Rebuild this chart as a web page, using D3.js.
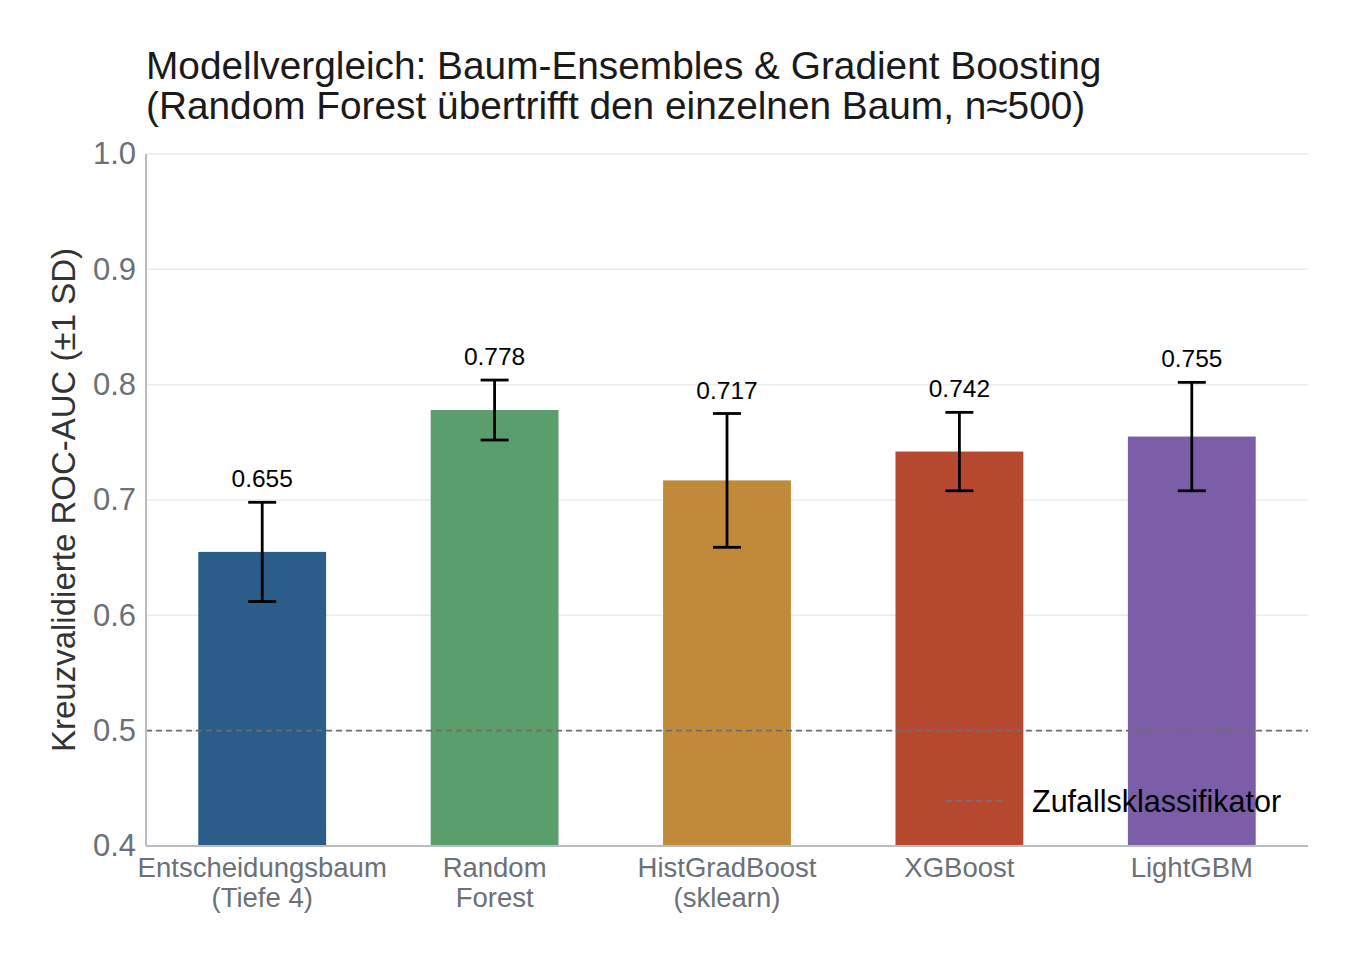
<!DOCTYPE html>
<html>
<head>
<meta charset="utf-8">
<script src="https://cdn.jsdelivr.net/npm/d3@7"></script>
<style>
  body { margin: 0; background: #fff; }
  svg { font-family: "Liberation Sans", Arial, sans-serif; }
</style>
</head>
<body>
<svg width="1357" height="962"></svg>
<script>
// data
const models = ["Entscheidungsbaum\n(Tiefe 4)", "Random\nForest", "HistGradBoost\n(sklearn)", "XGBoost", "LightGBM"];
const aucMean = [0.655, 0.778, 0.717, 0.742, 0.755];
const aucSd = [0.043, 0.026, 0.058, 0.034, 0.047];
const barColors = ["#2a5d8a", "#5a9e6b", "#c08a3a", "#b5482f", "#7b5ea7"];
const yTicks = [0.4, 0.5, 0.6, 0.7, 0.8, 0.9, 1.0];
const chanceLevel = 0.5;

const svg = d3.select("svg");
const margin = {top: 154, right: 49, bottom: 116, left: 146};
const width = +svg.attr("width") - margin.left - margin.right;
const height = +svg.attr("height") - margin.top - margin.bottom;

const g = svg.append("g").attr("transform", `translate(${margin.left},${margin.top})`);

const x = d3.scaleBand().domain(models).range([0, width]).paddingInner(0.45).paddingOuter(0.225);
const y = d3.scaleLinear().domain([0.4, 1.0]).range([height, 0]);

// grid
g.append("g")
  .selectAll("line")
  .data(yTicks.slice(1))
  .enter().append("line")
  .attr("x1", 0).attr("x2", width)
  .attr("y1", d => y(d)).attr("y2", d => y(d))
  .attr("stroke", "#ebebeb").attr("stroke-width", 1.5);

// bars
g.append("g")
  .selectAll("rect")
  .data(models)
  .enter().append("rect")
  .attr("x", d => x(d))
  .attr("width", x.bandwidth())
  .attr("y", (d, i) => y(aucMean[i]))
  .attr("height", (d, i) => y(0.4) - y(aucMean[i]))
  .attr("fill", (d, i) => barColors[i]);

// chance line
g.append("line")
  .attr("x1", 0).attr("x2", width)
  .attr("y1", y(chanceLevel)).attr("y2", y(chanceLevel))
  .attr("stroke", "#6e6e6e").attr("stroke-width", 1.6)
  .attr("stroke-dasharray", "6,4");

// error bars
const errs = g.append("g").attr("stroke", "#000").attr("stroke-width", 2.8);
models.forEach((m, i) => {
  const cx = x(m) + x.bandwidth() / 2;
  const top = y(aucMean[i] + aucSd[i]);
  const bot = y(aucMean[i] - aucSd[i]);
  errs.append("line").attr("x1", cx).attr("x2", cx).attr("y1", top).attr("y2", bot);
  errs.append("line").attr("x1", cx - 14).attr("x2", cx + 14).attr("y1", top).attr("y2", top);
  errs.append("line").attr("x1", cx - 14).attr("x2", cx + 14).attr("y1", bot).attr("y2", bot);
  g.append("text")
    .attr("x", cx).attr("y", top - 15)
    .attr("text-anchor", "middle")
    .attr("font-size", 24.5).attr("fill", "#000")
    .text(aucMean[i].toFixed(3));
});

// axes spines
g.append("line").attr("x1", 0).attr("x2", 0).attr("y1", 0).attr("y2", height)
  .attr("stroke", "#b9bcc2").attr("stroke-width", 2);
g.append("line").attr("x1", 0).attr("x2", width).attr("y1", height).attr("y2", height)
  .attr("stroke", "#b9bcc2").attr("stroke-width", 2);

// y tick labels
const yAxis = g.append("g").call(d3.axisLeft(y).tickValues(yTicks).tickSize(0).tickPadding(10).tickFormat(d3.format(".1f")));
yAxis.select(".domain").remove();
yAxis.selectAll("text").attr("font-size", 31).attr("fill", "#6b7079").attr("font-family", "Liberation Sans, Arial, sans-serif");

// x tick labels
const xAxis = g.append("g").attr("transform", `translate(0,${height})`)
  .call(d3.axisBottom(x).tickSize(0).tickFormat(""));
xAxis.select(".domain").remove();
xAxis.selectAll(".tick").each(function(d) {
  const t = d3.select(this).append("text")
    .attr("text-anchor", "middle").attr("font-size", 27.5).attr("fill", "#6b7079")
    .attr("font-family", "Liberation Sans, Arial, sans-serif");
  d.split("\n").forEach((line, k) => {
    t.append("tspan").attr("x", 0).attr("y", 31 + k * 30).text(line);
  });
});

// y label
svg.append("text")
  .attr("transform", `translate(75,${margin.top + height / 2}) rotate(-90)`)
  .attr("text-anchor", "middle").attr("font-size", 33).attr("fill", "#333")
  .text("Kreuzvalidierte ROC-AUC (±1 SD)");

// title
const title = svg.append("text").attr("x", 146).attr("font-size", 38.8).attr("fill", "#1a1a1a");
title.append("tspan").attr("x", 146).attr("y", 79).text("Modellvergleich: Baum-Ensembles & Gradient Boosting");
title.append("tspan").attr("x", 146).attr("y", 119).text("(Random Forest übertrifft den einzelnen Baum, n≈500)");

// legend
const leg = svg.append("g").attr("transform", "translate(946,801)");
leg.append("line").attr("x1", 0).attr("x2", 59).attr("y1", 0).attr("y2", 0)
  .attr("stroke", "#6b7785").attr("stroke-width", 1.6).attr("stroke-dasharray", "6,4");
leg.append("text").attr("x", 86).attr("y", 11).attr("font-size", 30.5).attr("fill", "#000")
  .text("Zufallsklassifikator");
</script>
</body>
</html>
